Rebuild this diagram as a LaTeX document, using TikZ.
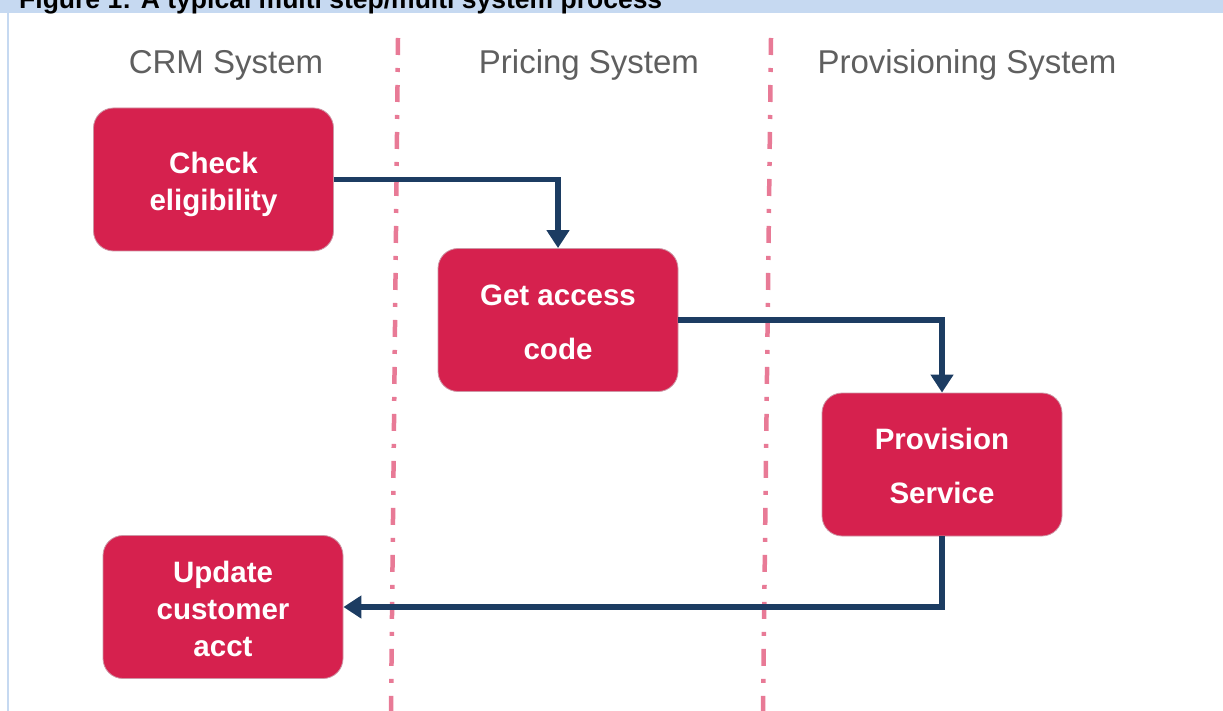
\documentclass[tikz,border=0pt]{standalone}
\usepackage{fontspec}
\setmainfont{Liberation Sans}
\usetikzlibrary{arrows.meta}
\definecolor{bandblue}{RGB}{198,217,241}
\definecolor{stepred}{RGB}{214,33,78}
\definecolor{stepedge}{RGB}{205,150,165}
\definecolor{flownavy}{RGB}{28,60,98}
\definecolor{lanepink}{RGB}{232,122,150}
\definecolor{headgray}{RGB}{95,95,95}
% extra room above the first line sets the step labels a little low in their boxes
\newcommand\padtop{\rule{0pt}{36pt}}
\tikzset{
  stepbox/.style={rounded corners=20pt, fill=stepred, draw=stepedge, line width=0.8pt,
    minimum width=240pt, minimum height=143pt, text=white, align=center,
    font=\bfseries\fontsize{29.5}{37}\selectfont},
  lanehead/.style={text=headgray, font=\fontsize{33}{36}\selectfont, anchor=base},
  lanesep/.style={lanepink, line width=4.5pt,
    dash pattern=on 17pt off 13pt on 4pt off 13pt},
  flow/.style={flownavy, line width=5.5pt,
    -{Triangle[width=22pt,length=18pt]}},
}
\begin{document}
\begin{tikzpicture}[x=1pt,y=-1pt]
  \useasboundingbox (0,0) rectangle (1223,711);
  \clip (0,0) rectangle (1223,711);
  % caption band and frame edge
  \fill[bandblue] (0,0) rectangle (1223,13);
  \draw[bandblue, line width=2pt] (8,13) -- (8,711);
  \node[anchor=base west, inner sep=0pt, font=\bfseries\fontsize{26.5}{30}\selectfont]
    (caption) at (19,8.5) {Figure 1: A typical multi step/multi system process};

  % swim lane headings
  \node[lanehead] (crm)  at (226,74) {CRM System};
  \node[lanehead] (pric) at (589,74) {Pricing System};
  \node[lanehead] (prov) at (967,74) {Provisioning System};

  % lane separators
  \draw[lanesep] (398,38) -- (391,711);
  \draw[lanesep] (771,38) -- (763,711);

  % process steps
  \node[stepbox] (check)  at (213.5,179.5) {\padtop Check\\eligibility\strut};
  \node[stepbox] (access) at (558,320) {\padtop Get access\\[17pt]code\strut};
  \node[stepbox] (provis) at (942,464.5) {\padtop Provision\\[17pt]Service\strut};
  \node[stepbox] (update) at (223,607) {\padtop Update\\customer\\acct\strut};

  % flow between steps
  \draw[flow] (check.east) -| (access.north);
  \draw[flow] (access.east) -| (provis.north);
  \draw[flow] (provis.south) |- (update.east);
\end{tikzpicture}
\end{document}
